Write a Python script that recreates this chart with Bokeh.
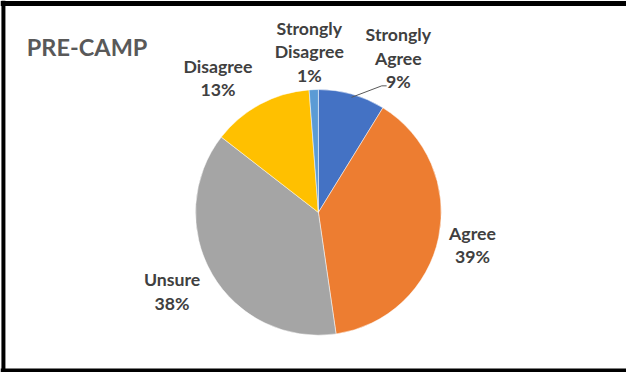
from bokeh.plotting import figure
from bokeh.models import Range1d, Span
from bokeh.core.properties import value
from bokeh.embed import file_html
from bokeh.resources import INLINE
import numpy as np

# ---- data ----
categories = ["Strongly Agree", "Agree", "Unsure", "Disagree", "Strongly Disagree"]
values = [8.8, 38.9, 37.8, 13.3, 1.2]
colors = ["#4472C4", "#ED7D31", "#A5A5A5", "#FFC000", "#5B9BD5"]
title_text = "PRE-CAMP"

# ---- layout (reference pixel coordinates, 642x388 canvas) ----
RW, RH = 642, 388
W, H = 626, 372
cx, cy, r = 326, 221, 126
label_pos = [(408, 60), (484, 255), (176, 303.5), (223, 81), (316.7, 53.7)]

def fy(y):
    return RH - y

p = figure(width=W, height=H, output_backend="svg", toolbar_location=None,
           x_range=Range1d(0, RW), y_range=Range1d(0, RH), min_border=0)
p.axis.visible = False
p.grid.visible = False
p.outline_line_color = None
p.background_fill_color = "white"
p.border_fill_color = "white"

total = sum(values)
fr = np.array(values) / total
cum = np.concatenate([[0], np.cumsum(fr)])
start = np.pi / 2 - cum[:-1] * 2 * np.pi
end = np.pi / 2 - cum[1:] * 2 * np.pi

p.wedge(x=cx, y=fy(cy), radius=r, start_angle=start, end_angle=end,
        direction="clock", fill_color=colors, line_color="white", line_width=0.5)

# leader line for Strongly Agree
p.line(x=[360, 391, 396], y=[fy(101), fy(89), fy(89)], line_color="#595959", line_width=1)

texts = [c.replace(" ", "\n") + "\n" + f"{round(v)}%" for c, v in zip(categories, values)]
p.text(x=[lp[0] for lp in label_pos], y=[fy(lp[1]) for lp in label_pos], text=texts,
       text_align="center", text_baseline="middle", text_font=value("Lato"),
       text_font_style="bold", text_font_size="17.7px", text_color="#404040",
       text_line_height=1.1)

p.text(x=[27], y=[fy(48)], text=[title_text], text_align="left", text_baseline="middle",
       text_font=value("Lato"), text_font_style="bold", text_font_size="23.5px",
       text_color="#595959")

# frame border (left, top, bottom)
p.add_layout(Span(location=3, dimension="height", line_color="black", line_width=4))
p.add_layout(Span(location=fy(3), dimension="width", line_color="black", line_width=5))
p.add_layout(Span(location=fy(386), dimension="width", line_color="black", line_width=4))

open("out.html", "w").write(file_html(p, INLINE))
